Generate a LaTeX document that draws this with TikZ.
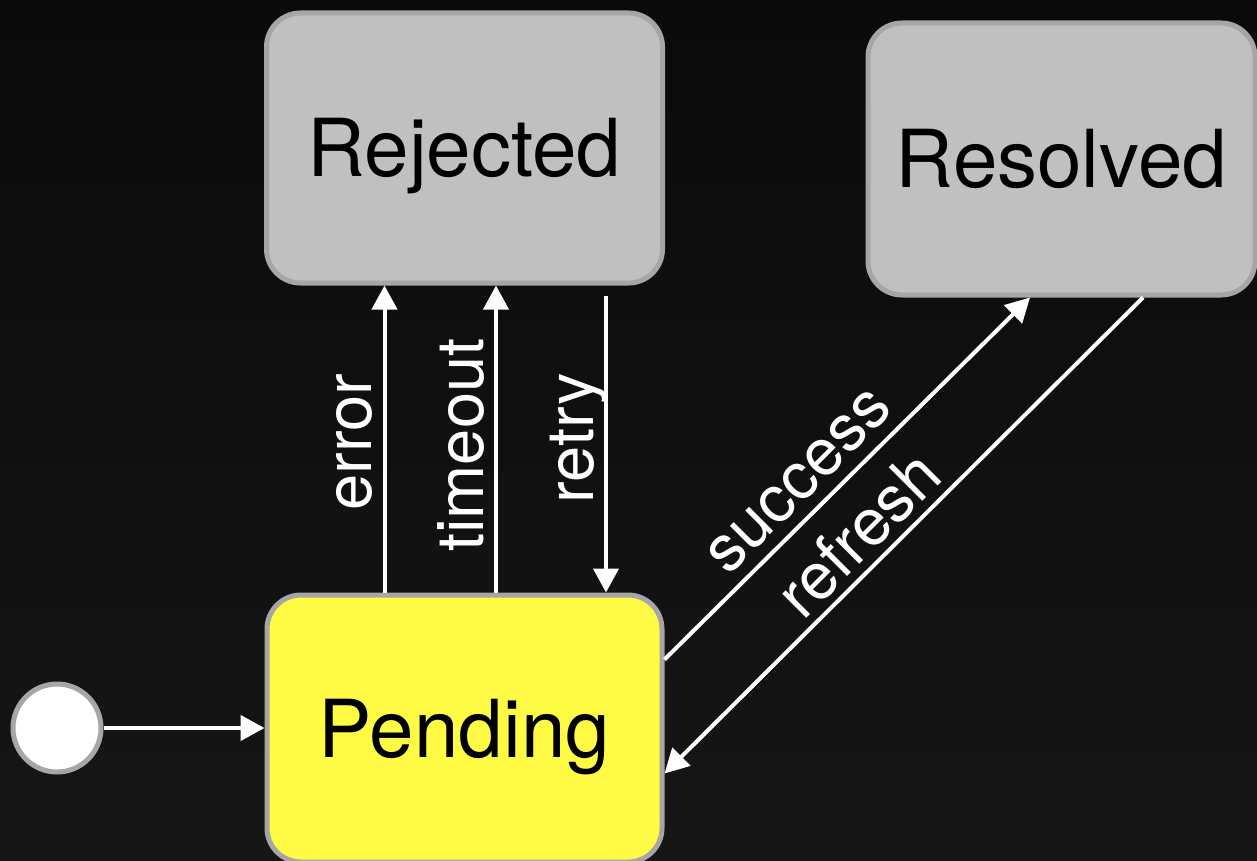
\documentclass[tikz,border=0pt]{standalone}
\usepackage{fontspec}
\setmainfont{TeX Gyre Heros}
\usetikzlibrary{arrows.meta,calc}
\definecolor{bgtop}{RGB}{10,10,10}
\definecolor{bgbot}{RGB}{22,22,22}
\definecolor{stategray}{RGB}{192,192,192}
\definecolor{stateedge}{RGB}{166,166,166}
\definecolor{pendingyellow}{RGB}{255,251,68}

\begin{document}
\begin{tikzpicture}[x=1pt,y=-1pt,
  state/.style={draw=stateedge, line width=5pt, rounded corners=34pt,
    fill=stategray, text=black, font=\fontsize{80}{82}\selectfont,
    text height=58pt, text depth=0pt, inner sep=0pt},
  trans/.style={draw=white, line width=4pt, -{Triangle[length=24pt,width=25pt]}},
  lbl/.style={text=white, font=\fontsize{65}{65}\selectfont,
    text depth=0pt, inner sep=13pt, outer sep=0pt, anchor=south}
]
% canvas and dark backdrop
\useasboundingbox (0,0) rectangle (1257,861);
\clip (0,0) rectangle (1257,861);
\shade[top color=bgtop, bottom color=bgbot] (0,0) rectangle (1257,861);

% states
\node[state, minimum width=396pt, minimum height=270pt] (rejected) at (464.5,148) {Rejected};
\node[state, minimum width=387pt, minimum height=272pt] (resolved) at (1061.5,159) {Resolved};
\node[state, fill=pendingyellow, minimum width=395pt, minimum height=267pt] (pending) at (464.5,728.5) {Pending};
\node[circle, draw=stateedge, line width=5pt, fill=white, minimum size=88pt, inner sep=0pt] (init) at (57,728) {};

% initial transition
\draw[trans] (init.east) -- (init.east -| pending.west);

% Pending <-> Rejected
\draw[trans] ($(pending.north)+(-80,0)$) --
  node[lbl, pos=0.49, rotate=90] {error} ($(rejected.south)+(-80,0)$);
\draw[trans] ($(pending.north)+(31.5,0)$) --
  node[lbl, pos=0.48, rotate=90] {timeout} ($(rejected.south)+(31.5,0)$);
\draw[trans] ($(rejected.south)+(141.5,10)$) --
  node[lbl, pos=0.48, rotate=90] {retry} ($(pending.north)+(141.5,0)$);

% Pending <-> Resolved
\draw[trans] ($(pending.east)+(0,-69)$) --
  node[lbl, pos=0.43, rotate=45, inner sep=14pt] {success} ($(resolved.south)+(-31.5,0)$);
\draw[trans] ($(resolved.south)+(81.5,0)$) --
  node[lbl, pos=0.546, rotate=45, inner sep=10.5pt] {refresh} ($(pending.east)+(0,45)$);
\end{tikzpicture}
\end{document}
